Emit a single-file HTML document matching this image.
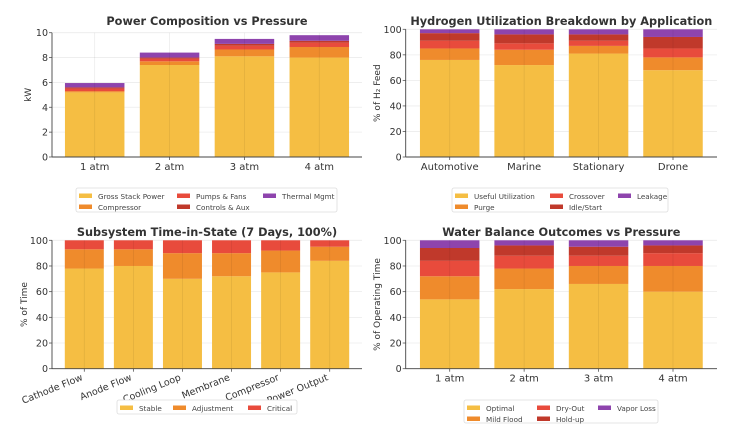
<!DOCTYPE html>
<html><head><meta charset="utf-8"><style>
html,body{margin:0;padding:0;background:#fff;width:731px;height:440px;overflow:hidden}
svg{font-family:"DejaVu Sans","Liberation Sans",sans-serif}
</style></head><body>
<svg id="root" width="731" height="440" viewBox="0 0 731 440" xmlns="http://www.w3.org/2000/svg"></svg>
<script>
const COLORS=["#F5BE43","#EF8B2C","#E84B3C","#C0392B","#8E44AD"];
// Chart 1
const c1Cats=["1 atm","2 atm","3 atm","4 atm"];
const c1Gross=[5.2,7.4,8.1,8.0];
const c1Comp=[0.1,0.3,0.55,0.85];
const c1Pumps=[0.2,0.2,0.3,0.35];
const c1Ctrl=[0.1,0.1,0.15,0.15];
const c1Therm=[0.35,0.4,0.4,0.45];
const c1Ticks=[0,2,4,6,8,10];
const c1Names=["Gross Stack Power","Compressor","Pumps & Fans","Controls & Aux","Thermal Mgmt"];
// Chart 2
const c2Cats=["Automotive","Marine","Stationary","Drone"];
const c2Useful=[76,72,81,68];
const c2Purge=[9,12,6,10];
const c2Cross=[6,5,4,7];
const c2Idle=[6,7,5,9];
const c2Leak=[3,4,4,6];
const pctTicks=[0,20,40,60,80,100];
const c2Names=["Useful Utilization","Purge","Crossover","Idle/Start","Leakage"];
// Chart 3
const c3Cats=["Cathode Flow","Anode Flow","Cooling Loop","Membrane","Compressor","Power Output"];
const c3Stable=[78,80,70,72,75,84];
const c3Adj=[15,13,20,18,17,11];
const c3Crit=[7,7,10,10,8,5];
const c3Names=["Stable","Adjustment","Critical"];
// Chart 4
const c4Cats=["1 atm","2 atm","3 atm","4 atm"];
const c4Opt=[54,62,66,60];
const c4Flood=[18,16,14,20];
const c4Dry=[12,10,8,10];
const c4Hold=[10,8,7,6];
const c4Vapor=[6,4,5,4];
const c4Names=["Optimal","Mild Flood","Dry-Out","Hold-up","Vapor Loss"];

const NS="http://www.w3.org/2000/svg";
const root=document.getElementById('root');
function el(tag,attrs,parent,text){const e=document.createElementNS(NS,tag);for(const k in attrs)e.setAttribute(k,attrs[k]);if(text!==undefined)e.textContent=text;(parent||root).appendChild(e);return e;}

function chart(o){
  const g=el('g',{},root);
  
  
  const {L,R,T,B,ymax}=o;
  const y=v=>B-(v/ymax)*(B-T);
  const n=o.cats.length;
  const step=(R-L-2*o.pad)/(n-1);
  const x=i=>L+o.pad+i*step;
  o.ticks.forEach(t=>{
    const gl=el('line',{x1:L,x2:R,y1:y(t),y2:y(t),stroke:'#ececec','stroke-width':0.8},g);
    
    
    const tl=el('text',{x:L-4,y:y(t)+3.5,'text-anchor':'end','font-size':9.5,fill:'#333'},g,String(t));
    
    
    el('line',{x1:L-3,x2:L,y1:y(t),y2:y(t),stroke:'#555','stroke-width':0.8},g);
  });
  o.cats.forEach((c,i)=>{
    let base=0;
    o.series.forEach((s,si)=>{
      const v=s[i];
      const r=el('rect',{x:x(i)-o.bw/2,y:y(base+v),width:o.bw,height:y(base)-y(base+v),fill:COLORS[si]},g);
      
      
      base+=v;
    });
    const vg=el('line',{x1:x(i),x2:x(i),y1:T,y2:B,stroke:'#000','stroke-opacity':0.08,'stroke-width':0.8},g);
    
    
    el('line',{x1:x(i),x2:x(i),y1:B,y2:B+3,stroke:'#555','stroke-width':0.8},g);
    let xl;
    if(o.rot){
      const tx=(x(i)-1).toFixed(2), ty=(B+11).toFixed(2);
      const rg=el('g',{transform:'translate('+tx+','+ty+') rotate(-22)'},g);
      xl=el('text',{x:0,y:0,'text-anchor':'end','font-size':9.5,fill:'#333'},rg,c);
    }
    else xl=el('text',{x:x(i),y:B+13,'text-anchor':'middle','font-size':10,fill:'#333'},g,c);
    
    
  });
  el('line',{x1:L,x2:L,y1:T,y2:B,stroke:'#444','stroke-width':0.9},g);
  el('line',{x1:L,x2:R,y1:B,y2:B,stroke:'#444','stroke-width':0.9},g);
  const t=el('text',{x:(L+R)/2,y:o.ty,'text-anchor':'middle','font-size':11.3,'font-weight':'bold',fill:'#333'},g,o.title);
  
  
  const yt=el('text',{x:o.ylx,y:(T+B)/2,'text-anchor':'middle','font-size':9,fill:'#333',transform:'rotate(-90,'+o.ylx+','+((T+B)/2)+')'},g,o.ylabel);
  
  
  const lg=el('g',{},g);
  
  
  el('rect',{x:o.lx,y:o.ly,width:o.lw,height:o.lh,fill:'#fff',stroke:'#ddd','stroke-width':0.8,rx:2},lg);
  o.snames.forEach((nm,k)=>{
    const col=Math.floor(k/o.rows),row=k%o.rows;
    const ex=o.lx+o.cols[col], ey=o.ly+4+row*11;
    const e=el('g',{},lg);
    
    
    el('rect',{x:ex,y:ey+1.5,width:13,height:4.5,fill:COLORS[k]},e);
    el('text',{x:ex+19,y:ey+7,'font-size':7.2,fill:'#444'},e,nm);
  });
}
chart({name:'power-composition-chart',L:52,R:362,T:32.7,B:157,ymax:10,pad:42.7,bw:59.5,cats:c1Cats,series:[c1Gross,c1Comp,c1Pumps,c1Ctrl,c1Therm],snames:c1Names,ticks:c1Ticks,title:'Power Composition vs Pressure',ty:25,ylabel:'kW',ylx:31,lx:76,ly:188,lw:261,lh:24,rows:2,cols:[3,101,187]});
chart({name:'hydrogen-utilization-chart',L:405.7,R:717,T:29.3,B:157,ymax:100,pad:44,bw:59.5,cats:c2Cats,series:[c2Useful,c2Purge,c2Cross,c2Idle,c2Leak],snames:c2Names,ticks:pctTicks,title:'Hydrogen Utilization Breakdown by Application',ty:25,ylabel:'% of H₂ Feed',ylx:380,lx:452,ly:188,lw:216,lh:24,rows:2,cols:[3,98,166]});
chart({name:'subsystem-time-in-state-chart',L:52,R:362,T:240.3,B:368.7,ymax:100,pad:32.3,bw:39,cats:c3Cats,series:[c3Stable,c3Adj,c3Crit],snames:c3Names,ticks:pctTicks,title:'Subsystem Time-in-State (7 Days, 100%)',ty:236,ylabel:'% of Time',ylx:27,lx:117,ly:400,lw:180,lh:14,rows:1,cols:[3,56,131],rot:true});
chart({name:'water-balance-chart',L:405.7,R:717,T:240.3,B:368.7,ymax:100,pad:44,bw:59.5,cats:c4Cats,series:[c4Opt,c4Flood,c4Dry,c4Hold,c4Vapor],snames:c4Names,ticks:pctTicks,title:'Water Balance Outcomes vs Pressure',ty:236,ylabel:'% of Operating Time',ylx:380,lx:464,ly:400,lw:194,lh:23,rows:2,cols:[3,73,134]});
</script>
</body></html>
